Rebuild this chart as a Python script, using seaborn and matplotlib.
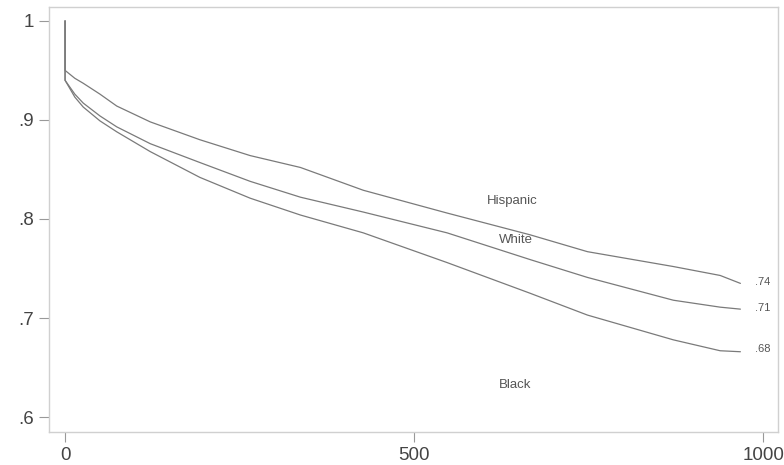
import numpy as np
import pandas as pd
import matplotlib
matplotlib.use("Agg")
import matplotlib.pyplot as plt
import seaborn as sns

#==============================================================
# 1. Data
#==============================================================

days = [0, 0, 14, 26, 50, 74, 122, 193, 265, 337, 427, 547, 666, 748, 871, 938, 967]
hispanic = [1.0, 0.950, 0.942, 0.937, 0.926, 0.914, 0.898, 0.880, 0.864, 0.852, 0.829, 0.806, 0.784, 0.767, 0.752, 0.743, 0.735]
white = [1.0, 0.940, 0.926, 0.917, 0.904, 0.893, 0.876, 0.857, 0.838, 0.822, 0.807, 0.786, 0.759, 0.741, 0.718, 0.711, 0.709]
black = [1.0, 0.940, 0.923, 0.913, 0.899, 0.888, 0.868, 0.842, 0.821, 0.804, 0.786, 0.756, 0.725, 0.703, 0.678, 0.667, 0.666]

groups = ["Hispanic", "White", "Black"]
end_labels = [".74", ".71", ".68"]
end_values = [0.736, 0.710, 0.669]
name_pos = [(640, 0.818), (645, 0.779), (645, 0.632)]

y_ticks = [0.6, 0.7, 0.8, 0.9, 1.0]
y_tick_labels = [".6", ".7", ".8", ".9", "1"]
x_ticks = [0, 500, 1000]

df = pd.DataFrame({
    "day": days * 3,
    "surv": hispanic + white + black,
    "group": [g for g in groups for _ in days],
})

#==============================================================
# 2. Plot
#==============================================================

sns.set_style("white")
plt.rcParams["font.family"] = ["Liberation Sans", "DejaVu Sans"]

fig = plt.figure(figsize=(7.84, 4.65), dpi=100)
ax = fig.add_axes([0.0625, 0.071, 0.93, 0.914])

sns.lineplot(data=df, x="day", y="surv", units="group", estimator=None,
             sort=False, color="#7a7a7a", linewidth=0.9, ax=ax, legend=False)

for (x, y), g in zip(name_pos, groups):
    ax.text(x, y, g, fontsize=9.5, color="#555555", ha="center", va="center")
for lab, v in zip(end_labels, end_values):
    ax.text(988, v, lab, fontsize=8, color="#555555", ha="left", va="center")

ax.set_xlim(-23, 1021)
ax.set_ylim(0.585, 1.014)
ax.set_xticks(x_ticks)
ax.set_xticklabels([str(t) for t in x_ticks])
ax.set_yticks(y_ticks)
ax.set_yticklabels(y_tick_labels)
ax.set_xlabel("")
ax.set_ylabel("")

for s in ax.spines.values():
    s.set_color("#d0d0d0")
    s.set_linewidth(1.0)
ax.tick_params(axis="both", length=7, width=0.8, color="#999999",
               labelsize=13.5, labelcolor="#444444", pad=4)
ax.tick_params(axis="y", left=True)
ax.tick_params(axis="x", bottom=True)

fig.savefig("out.png", dpi=100)
